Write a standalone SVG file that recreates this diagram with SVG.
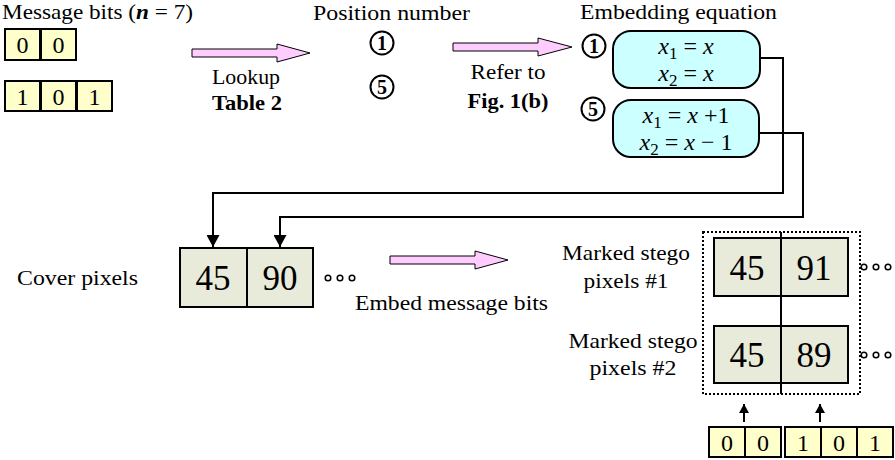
<svg xmlns="http://www.w3.org/2000/svg" width="895" height="460" viewBox="0 0 895 460">
<defs>
<marker id="ah" markerWidth="13" markerHeight="13" refX="12" refY="6.5" orient="auto" markerUnits="userSpaceOnUse">
<path d="M0,0 L12,6.5 L0,13 Z" fill="#000"/>
</marker>
<marker id="ahs" markerWidth="11" markerHeight="10" refX="9" refY="5" orient="auto" markerUnits="userSpaceOnUse">
<path d="M0,0 L9,5 L0,10 Z" fill="#000"/>
</marker>
</defs>
<style>
text{font-family:"Liberation Serif","Times New Roman",serif;fill:#000}
.lbl{font-size:22px}
.top{font-size:21px}
.bit{fill:#ffffcc;stroke:#000;stroke-width:2}
.bt{font-size:24px;text-anchor:middle}
.pix{fill:#e8ebd9;stroke:#000;stroke-width:2}
.pt{font-size:35px;text-anchor:middle}
.eq{fill:#ccffff;stroke:#000;stroke-width:2}
.et{font-size:24px;text-anchor:middle}
.pink{fill:#ffccff;stroke:#000;stroke-width:1}
.circ{fill:#fff;stroke:#000;stroke-width:2}
.ct{font-size:20px;font-weight:bold;text-anchor:middle}
.dot{fill:#fff;stroke:#000;stroke-width:1.5}
.conn{fill:none;stroke:#000;stroke-width:2}
.b{font-weight:bold}
.i{font-style:italic}
</style>

<g id="title-message">
<text class="top" x="2" y="19" textLength="191" lengthAdjust="spacingAndGlyphs">Message bits (<tspan class="b i">n</tspan> = 7)</text>
</g>
<g id="bits-00">
<rect class="bit" x="5" y="29" width="35" height="31"/>
<rect class="bit" x="41" y="29" width="35" height="31"/>
<text class="bt" x="22.5" y="53">0</text>
<text class="bt" x="58.5" y="53">0</text>
</g>
<g id="bits-101">
<rect class="bit" x="5" y="81" width="35" height="30"/>
<rect class="bit" x="41" y="81" width="35" height="30"/>
<rect class="bit" x="77" y="81" width="35" height="30"/>
<text class="bt" x="22.5" y="105">1</text>
<text class="bt" x="58.5" y="105">0</text>
<text class="bt" x="94.5" y="105">1</text>
</g>

<g id="arrow-lookup">
<polygon class="pink" points="192,49 277,49 277,44 310,53 277,62 277,57 192,57"/>
<text class="lbl" x="246" y="84" text-anchor="middle" textLength="68" lengthAdjust="spacingAndGlyphs">Lookup</text>
<text class="lbl b" x="247" y="110" text-anchor="middle" textLength="70" lengthAdjust="spacingAndGlyphs">Table 2</text>
</g>

<g id="position-number">
<text class="top" x="313" y="20" textLength="157" lengthAdjust="spacingAndGlyphs">Position number</text>
<circle class="circ" cx="382" cy="43" r="11.5"/>
<text class="ct" x="382" y="50">1</text>
<circle class="circ" cx="382" cy="87" r="11.5"/>
<text class="ct" x="382" y="94">5</text>
</g>

<g id="arrow-refer">
<polygon class="pink" points="453,43 538,43 538,38 572,47 538,56 538,51 453,51"/>
<text class="lbl" x="508" y="79" text-anchor="middle" textLength="75" lengthAdjust="spacingAndGlyphs">Refer to</text>
<text class="lbl b" x="508" y="108" text-anchor="middle" textLength="81" lengthAdjust="spacingAndGlyphs">Fig. 1(b)</text>
</g>

<g id="embedding-title">
<text class="top" x="580" y="19" textLength="197" lengthAdjust="spacingAndGlyphs">Embedding equation</text>
</g>
<g id="eq1">
<circle class="circ" cx="594" cy="46" r="11.5"/>
<text class="ct" x="594" y="53">1</text>
<rect class="eq" x="613" y="31" width="147" height="57" rx="18"/>
<text class="et" x="686" y="54"><tspan class="i">x</tspan><tspan font-size="17" dy="5">1</tspan><tspan dy="-5"> = </tspan><tspan class="i">x</tspan></text>
<text class="et" x="686" y="81"><tspan class="i">x</tspan><tspan font-size="17" dy="5">2</tspan><tspan dy="-5"> = </tspan><tspan class="i">x</tspan></text>
</g>
<g id="eq5">
<circle class="circ" cx="593" cy="109" r="11.5"/>
<text class="ct" x="593" y="116">5</text>
<rect class="eq" x="613" y="100" width="146" height="57" rx="18"/>
<text class="et" x="686" y="123"><tspan class="i">x</tspan><tspan font-size="17" dy="5">1</tspan><tspan dy="-5"> = </tspan><tspan class="i">x</tspan><tspan> +1</tspan></text>
<text class="et" x="686" y="150"><tspan class="i">x</tspan><tspan font-size="17" dy="5">2</tspan><tspan dy="-5"> = </tspan><tspan class="i">x</tspan><tspan> − 1</tspan></text>
</g>

<g id="connectors">
<polyline class="conn" points="760,58 783,58 783,193 213,193 213,247" marker-end="url(#ah)"/>
<polyline class="conn" points="759,133 803,133 803,217 280,217 280,247" marker-end="url(#ah)"/>
<line class="conn" x1="744" y1="422" x2="744" y2="404" marker-end="url(#ahs)"/>
<line class="conn" x1="820" y1="422" x2="820" y2="404" marker-end="url(#ahs)"/>
</g>

<g id="cover-pixels">
<text class="lbl" x="17" y="285" textLength="121" lengthAdjust="spacingAndGlyphs">Cover pixels</text>
<rect class="pix" x="180" y="248" width="133" height="59"/>
<line class="conn" x1="247" y1="248" x2="247" y2="307"/>
<text class="pt" x="213" y="290">45</text>
<text class="pt" x="280" y="290">90</text>
<circle class="dot" cx="328" cy="278" r="2.8"/>
<circle class="dot" cx="340" cy="278" r="2.8"/>
<circle class="dot" cx="352" cy="278" r="2.8"/>
</g>

<g id="arrow-embed">
<polygon class="pink" points="390,256 475,256 475,251 508,260 475,269 475,264 390,264"/>
<text class="lbl" x="355" y="310" textLength="193" lengthAdjust="spacingAndGlyphs">Embed message bits</text>
</g>

<g id="stego-pixels">
<rect x="703" y="232" width="157" height="162" fill="none" stroke="#000" stroke-width="2" stroke-dasharray="2,2"/>
<rect class="pix" x="714" y="238" width="134" height="58"/>
<rect class="pix" x="714" y="326" width="134" height="57"/>
<line class="conn" x1="781" y1="232" x2="781" y2="394"/>
<text class="pt" x="747" y="280">45</text>
<text class="pt" x="814" y="280">91</text>
<text class="pt" x="747" y="367">45</text>
<text class="pt" x="814" y="367">89</text>
<circle class="dot" cx="864" cy="267" r="2.8"/>
<circle class="dot" cx="876" cy="267" r="2.8"/>
<circle class="dot" cx="888" cy="267" r="2.8"/>
<circle class="dot" cx="864" cy="355" r="2.8"/>
<circle class="dot" cx="876" cy="355" r="2.8"/>
<circle class="dot" cx="888" cy="355" r="2.8"/>
<text class="lbl" x="626" y="260" text-anchor="middle" textLength="128" lengthAdjust="spacingAndGlyphs">Marked stego</text>
<text class="lbl" x="626" y="288" text-anchor="middle" textLength="85" lengthAdjust="spacingAndGlyphs">pixels #1</text>
<text class="lbl" x="633" y="348" text-anchor="middle" textLength="129" lengthAdjust="spacingAndGlyphs">Marked stego</text>
<text class="lbl" x="633" y="375" text-anchor="middle" textLength="87" lengthAdjust="spacingAndGlyphs">pixels #2</text>
</g>

<g id="bits-bottom">
<rect class="bit" x="709" y="427" width="36" height="30"/>
<rect class="bit" x="745" y="427" width="36" height="30"/>
<rect class="bit" x="785" y="427" width="36" height="30"/>
<rect class="bit" x="821" y="427" width="36" height="30"/>
<rect class="bit" x="857" y="427" width="36" height="30"/>
<text class="bt" x="727" y="451">0</text>
<text class="bt" x="763" y="451">0</text>
<text class="bt" x="803" y="451">1</text>
<text class="bt" x="839" y="451">0</text>
<text class="bt" x="875" y="451">1</text>
</g>
</svg>
